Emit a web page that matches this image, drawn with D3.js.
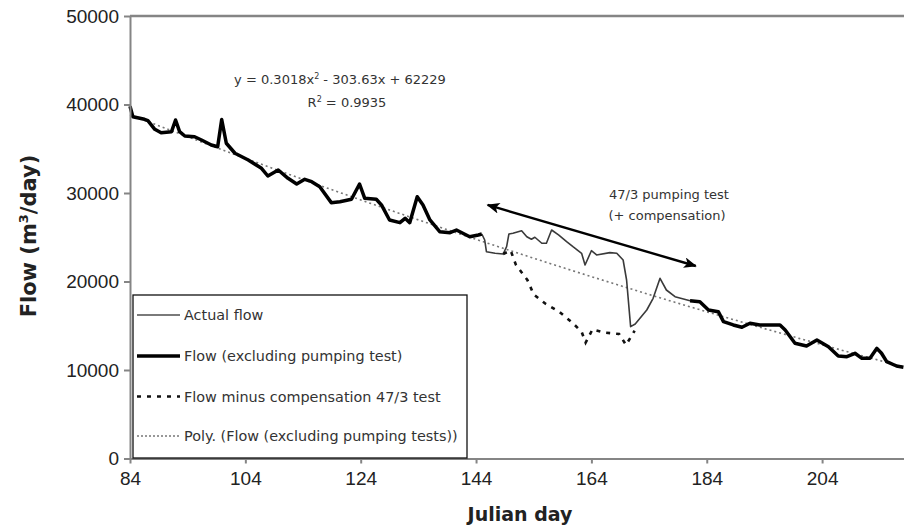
<!doctype html>
<html lang="en">
  <head>
    <meta charset="utf-8">
    <title>Flow vs Julian day</title>
    <script src="https://d3js.org/d3.v7.min.js"></script>
    <style>
    body { margin: 0; background: #fff; }
    svg { display: block; font-family: "DejaVu Sans", sans-serif; }
    .axis path, .axis line { stroke: #858585; stroke-width: 2; }
    .axis text { fill: #222; font-size: 19px; }
    .legend text { fill: #333; font-size: 14.4px; }
    .note { fill: #333; font-size: 13px; }
    </style>
  </head>
  <body>
    <svg width="904" height="527"></svg>

    <script>
      // day, flow (m3/day)
      var excludingA = [
        [84.0, 39800], [84.5, 38620], [86.5, 38330], [87.1, 38170], [88.3, 37200],
        [89.4, 36800], [91.2, 36930], [91.9, 38250], [92.6, 36930], [93.5, 36440],
        [95.2, 36360], [96.4, 35990], [98.1, 35430], [99.2, 35230], [99.9, 38300],
        [100.7, 35620], [102.2, 34490], [104.5, 33730], [106.8, 32790], [107.9, 31920],
        [109.7, 32600], [111.4, 31660], [112.9, 31020], [114.3, 31550], [115.5, 31280],
        [116.9, 30710], [118.9, 28910], [120.4, 29020], [122.4, 29290], [123.8, 31020],
        [124.7, 29400], [126.7, 29290], [127.6, 28650], [129.0, 26950], [130.8, 26650],
        [131.7, 27140], [132.5, 26650], [133.8, 29580], [134.8, 28650], [136.0, 26950],
        [137.7, 25630], [139.5, 25520], [140.6, 25820], [142.9, 25060], [144.4, 25260],
        [145.0, 25370]
      ];
      var excludingB = [
        [181.1, 17830], [182.8, 17720], [184.3, 16780], [186.0, 16590], [186.9, 15460],
        [188.6, 15090], [190.1, 14830], [191.5, 15280], [193.2, 15090], [196.7, 15090],
        [197.6, 14520], [199.3, 13020], [201.3, 12710], [203.1, 13390], [205.1, 12630],
        [206.8, 11580], [208.3, 11500], [209.7, 11890], [210.9, 11320], [212.3, 11320],
        [213.5, 12450], [214.3, 11890], [215.2, 10940], [216.9, 10450], [218.1, 10310]
      ];
      var actualFlow = [
        [145.0, 25370], [145.5, 24690], [145.8, 23370], [147.3, 23190], [148.7, 23110],
        [149.3, 23930], [149.7, 25370], [150.4, 25450], [151.9, 25740], [152.8, 25060],
        [153.6, 24770], [154.2, 25000], [155.4, 24320], [156.2, 24320], [157.1, 25820],
        [158.3, 25260], [159.7, 24500], [160.8, 23930], [162.3, 23190], [162.9, 21870],
        [164.0, 23480], [164.9, 23000], [167.2, 23260], [168.4, 23190], [169.5, 22430],
        [170.1, 20170], [170.8, 14900], [171.6, 15200], [173.6, 16780], [174.7, 18100],
        [175.9, 20360], [177.0, 19040], [178.5, 18280], [181.1, 17830]
      ];
      var minusCompensation = [
        [148.7, 23110], [150.0, 23500], [150.9, 21900], [152.9, 20170], [154.0, 18530],
        [156.1, 17460], [158.4, 16590], [160.6, 15400], [162.3, 14330], [163.0, 13090],
        [164.2, 14600], [166.3, 14220], [168.8, 14070], [170.0, 12830], [171.5, 14440]
      ];
      // polynomial trendline, sampled every 4 days
      var trendDays = [84, 88, 92, 96, 100, 104, 108, 112, 116, 120, 124, 128, 132, 136, 140,
        144, 148, 152, 156, 160, 164, 168, 172, 176, 180, 184, 188, 192, 196, 200, 204, 208,
        212, 216, 218];
      var trendVals = [38854, 37847, 36849, 35862, 34884, 33916, 32957, 32008, 31069, 30139,
        29219, 28309, 27408, 26517, 25636, 24764, 23902, 23050, 22207, 21374, 20551, 19737,
        18933, 18139, 17354, 16579, 15813, 15058, 14311, 13575, 12848, 12131, 11424, 10726, 10380];

      var xTicks = [84, 104, 124, 144, 164, 184, 204];
      var yTicks = [0, 10000, 20000, 30000, 40000, 50000];
      var legendLabels = ['Actual flow', 'Flow (excluding pumping test)',
        'Flow minus compensation 47/3 test', 'Poly. (Flow (excluding pumping tests))'];
      var arrowEnds = [[146.0, 28650], [182.1, 21750]];

      var svg = d3.select('svg');

      var x = d3.scaleLinear().domain([84, 218.2]).range([130, 904]);
      var y = d3.scaleLinear().domain([0, 50000]).range([458.5, 16]);

      var line = d3.line()
        .x(function(d){ return x(d[0]); })
        .y(function(d){ return y(d[1]); });

      // frame top
      svg.append('line')
        .attr('x1', x(84)).attr('x2', 904)
        .attr('y1', y(50000)).attr('y2', y(50000))
        .attr('stroke', '#858585').attr('stroke-width', 2.5);

      var trend = trendDays.map(function(d, i){ return [d, trendVals[i]]; });

      svg.append('path').datum(trend)
        .attr('d', line).attr('fill', 'none')
        .attr('stroke', '#777').attr('stroke-width', 1.6)
        .attr('stroke-dasharray', '2,3');

      svg.append('path').datum(actualFlow)
        .attr('d', line).attr('fill', 'none')
        .attr('stroke', '#3a3a3a').attr('stroke-width', 1.6)
        .attr('stroke-linejoin', 'round');

      [excludingA, excludingB].forEach(function(seg){
        svg.append('path').datum(seg)
          .attr('d', line).attr('fill', 'none')
          .attr('stroke', '#000').attr('stroke-width', 3.5)
          .attr('stroke-linejoin', 'round');
      });

      svg.append('path').datum(minusCompensation)
        .attr('d', line).attr('fill', 'none')
        .attr('stroke', '#111').attr('stroke-width', 2.6)
        .attr('stroke-dasharray', '4,6');

      // axes
      svg.append('g')
        .attr('class', 'axis')
        .attr('transform', 'translate(' + x(84) + ',0)')
        .call(d3.axisLeft(y).tickValues(yTicks).tickSize(6).tickSizeOuter(0).tickPadding(5)
          .tickFormat(d3.format('d')));

      svg.append('g')
        .attr('class', 'axis')
        .attr('transform', 'translate(0,' + y(0) + ')')
        .call(d3.axisBottom(x).tickValues(xTicks).tickSize(5).tickSizeOuter(0).tickPadding(8));

      svg.append('text')
        .attr('x', 520).attr('y', 521)
        .attr('text-anchor', 'middle')
        .style('font-size', '19px').style('font-weight', 'bold').attr('fill', '#222')
        .text('Julian day');

      var yTitle = svg.append('text')
        .attr('transform', 'translate(36,236) rotate(-90)')
        .attr('text-anchor', 'middle')
        .style('font-size', '21px').style('font-weight', 'bold').attr('fill', '#222');
      yTitle.append('tspan').text('Flow (m');
      yTitle.append('tspan').attr('dy', -8).style('font-size', '13px').text('3');
      yTitle.append('tspan').attr('dy', 8).text('/day)');

      // equation
      var eq = svg.append('text').attr('class', 'note')
        .attr('x', 340).attr('y', 84).attr('text-anchor', 'middle');
      eq.append('tspan').text('y = 0.3018x');
      eq.append('tspan').attr('dy', -5).style('font-size', '8px').text('2');
      eq.append('tspan').attr('dy', 5).text(' - 303.63x + 62229');

      var r2 = svg.append('text').attr('class', 'note')
        .attr('x', 347).attr('y', 107).attr('text-anchor', 'middle');
      r2.append('tspan').text('R');
      r2.append('tspan').attr('dy', -5).style('font-size', '8px').text('2');
      r2.append('tspan').attr('dy', 5).text(' = 0.9935');

      svg.append('text').attr('class', 'note')
        .attr('x', 669).attr('y', 199).attr('text-anchor', 'middle')
        .text('47/3 pumping test');
      svg.append('text').attr('class', 'note')
        .attr('x', 667).attr('y', 220).attr('text-anchor', 'middle')
        .text('(+ compensation)');

      // double arrow
      var defs = svg.append('defs');
      defs.append('marker')
        .attr('id', 'head')
        .attr('viewBox', '0 0 12 10')
        .attr('refX', 11).attr('refY', 5)
        .attr('markerWidth', 5.5).attr('markerHeight', 4.5)
        .attr('orient', 'auto-start-reverse')
        .append('path').attr('d', 'M0,0 L12,5 L0,10 L3,5 z').attr('fill', '#000');

      svg.append('line')
        .attr('x1', x(arrowEnds[0][0])).attr('y1', y(arrowEnds[0][1]))
        .attr('x2', x(arrowEnds[1][0])).attr('y2', y(arrowEnds[1][1]))
        .attr('stroke', '#000').attr('stroke-width', 2.4)
        .attr('marker-start', 'url(#head)').attr('marker-end', 'url(#head)');

      // legend
      var legend = svg.append('g').attr('class', 'legend');
      legend.append('rect')
        .attr('x', 133).attr('y', 295).attr('width', 334).attr('height', 163)
        .attr('fill', '#fff').attr('stroke', '#111').attr('stroke-width', 1.3);

      var styles = [
        { stroke: '#7a7a7a', width: 1.8, dash: null },
        { stroke: '#000', width: 3.5, dash: null },
        { stroke: '#111', width: 2.6, dash: '4,6' },
        { stroke: '#777', width: 1.4, dash: '2,2' }
      ];
      var rowY = [315, 356, 396.5, 436];

      legendLabels.forEach(function(label, i){
        legend.append('line')
          .attr('x1', 137).attr('x2', 180)
          .attr('y1', rowY[i]).attr('y2', rowY[i])
          .attr('stroke', styles[i].stroke).attr('stroke-width', styles[i].width)
          .attr('stroke-dasharray', styles[i].dash);
        legend.append('text')
          .attr('x', 184).attr('y', rowY[i] + 5)
          .text(label);
      });
    </script>
  </body>
</html>
